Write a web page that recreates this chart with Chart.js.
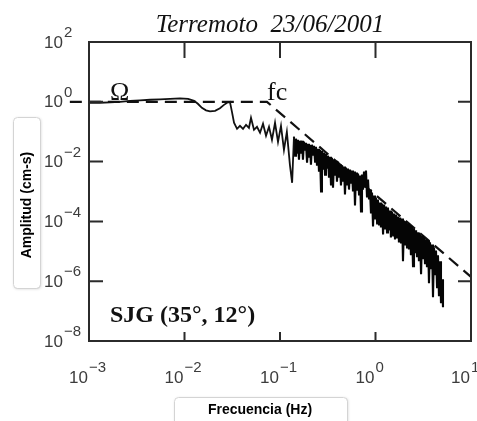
<!DOCTYPE html>
<html>
<head>
<meta charset="utf-8">
<script src="https://cdn.jsdelivr.net/npm/chart.js@4.4.0/dist/chart.umd.min.js"></script>
<style>
  html, body { margin: 0; padding: 0; background: #fff; }
  #wrap { width: 477px; height: 421px; position: relative; }
</style>
</head>
<body>
<div id="wrap"><canvas id="spectrum"></canvas></div>
<script>
// Displacement spectrum, frequency in Hz and amplitude in cm-s
const freqs = [
  0.001, 0.0013, 0.00166, 0.00211, 0.00269, 0.00342, 0.00436, 0.00554, 0.00705, 0.00897,
  0.0109, 0.0126, 0.0138, 0.0152, 0.0168, 0.0185, 0.0209, 0.0235, 0.0259, 0.0279,
  0.0299, 0.0314, 0.033, 0.0355, 0.0381, 0.041, 0.0441, 0.0473, 0.0497, 0.0534,
  0.0574, 0.0618, 0.0664, 0.0714, 0.0767, 0.0824, 0.0887, 0.0953, 0.1024, 0.110,
  0.118, 0.127, 0.134, 0.140,
  0.144, 0.147, 0.151, 0.154, 0.158, 0.162, 0.166, 0.170, 0.174, 0.178,
  0.183, 0.187, 0.192, 0.197, 0.201, 0.206, 0.211, 0.216, 0.222, 0.227,
  0.233, 0.238, 0.244, 0.250, 0.256, 0.262, 0.269, 0.275, 0.282, 0.289,
  0.296, 0.303, 0.311, 0.318, 0.326, 0.334, 0.342, 0.350, 0.359, 0.368,
  0.377, 0.386, 0.395, 0.405, 0.415, 0.425, 0.435, 0.446, 0.457, 0.468,
  0.479, 0.491, 0.503, 0.515, 0.528, 0.541, 0.554, 0.568, 0.581, 0.596,
  0.610, 0.625, 0.640, 0.656, 0.672, 0.688, 0.705, 0.722, 0.740, 0.758,
  0.776, 0.795, 0.815, 0.835, 0.855, 0.876, 0.897, 0.919, 0.942, 0.965,
  0.988, 1.01, 1.04, 1.06, 1.09, 1.12, 1.14, 1.17, 1.20, 1.23,
  1.26, 1.29, 1.32, 1.35, 1.39, 1.42, 1.45, 1.49, 1.53, 1.56,
  1.60, 1.64, 1.68, 1.72, 1.76, 1.81, 1.85, 1.90, 1.94, 1.99,
  2.04, 2.09, 2.14, 2.19, 2.24, 2.30, 2.35, 2.41, 2.47, 2.53,
  2.59, 2.66, 2.72, 2.79, 2.85, 2.92, 3.00, 3.07, 3.14, 3.22,
  3.30, 3.38, 3.46, 3.55, 3.63, 3.72, 3.81, 3.91, 4.00, 4.10,
  4.20, 4.30, 4.41, 4.51, 4.62, 4.74, 4.85, 4.97, 5.09
];
const amps = [
  0.93, 0.93, 0.96, 1.0, 1.08, 1.12, 1.17, 1.21, 1.26, 1.31,
  1.26, 1.08, 0.86, 0.63, 0.52, 0.48, 0.50, 0.61, 0.79, 0.93,
  1.0, 0.46, 0.20, 0.125, 0.158, 0.125, 0.17, 0.135, 0.29, 0.116,
  0.146, 0.092, 0.184, 0.073, 0.146, 0.0536, 0.199, 0.0459, 0.157, 0.0248,
  0.099, 0.0078, 0.00195, 0.0675,
  0.0158, 0.0583, 0.0199, 0.054, 0.0116, 0.05, 0.0184, 0.05, 0.0116, 0.0463,
  0.025, 0.0429, 0.00926, 0.0397, 0.0135, 0.0368, 0.00794, 0.0368, 0.0158, 0.034,
  0.01, 0.0315, 0.00735, 0.027, 0.00463, 0.025, 0.001, 0.0232, 0.0054, 0.0199,
  0.00368, 0.0184, 0.0063, 0.0158, 0.00292, 0.0146, 0.00158, 0.0135, 0.00135, 0.0116,
  0.0034, 0.0107, 0.00214, 0.01, 0.00292, 0.00794, 0.00158, 0.00735, 0.00214, 0.00681,
  0.000794, 0.0063, 0.00158, 0.00583, 0.00116, 0.0054, 0.00184, 0.005, 0.001, 0.00463,
  0.00034, 0.00429, 0.00107, 0.00397, 0.000794, 0.0034, 0.000214, 0.00368, 0.00116, 0.00463,
  0.00135, 0.005, 0.00063, 0.0025, 0.00054, 0.00116, 0.000184, 0.000926, 6.81e-5, 0.000735,
  0.000116, 0.00063, 8.57e-5, 0.00054, 7.35e-5, 0.000429, 6.3e-5, 0.000397, 3.68e-5, 0.000368,
  5.4e-5, 0.000315, 4.29e-5, 0.000292, 5e-5, 0.000232, 2.92e-5, 0.000214, 3.4e-5, 0.000184,
  2.5e-5, 0.00017, 2.92e-5, 0.000146, 1.99e-5, 0.000135, 1.84e-5, 0.000125, 4.63e-6, 0.000107,
  1.58e-5, 0.0001, 1.25e-5, 8.57e-5, 1.16e-5, 7.35e-5, 7.35e-6, 6.81e-5, 3.15e-6, 5.83e-5,
  8.57e-6, 5e-5, 6.3e-6, 4.29e-5, 4.63e-6, 3.68e-5, 1.7e-6, 3.4e-5, 5.4e-6, 2.92e-5,
  3.68e-6, 2.5e-5, 2.92e-6, 2.32e-5, 8.57e-7, 1.99e-5, 2.5e-6, 1.7e-5, 2.92e-7, 1.35e-5,
  1.7e-6, 1.07e-5, 6.3e-7, 7.35e-6, 3.15e-7, 4.63e-6, 1.84e-7, 1.16e-6, 1.35e-7
];
// from here on the spectrum breaks into the dense high-frequency band
const bandStart = freqs.indexOf(0.140);

// Brune model: flat level Omega up to the corner frequency fc, then decay
const modelFreqs = [0.00063, 0.073, 10];
const modelAmps = [1, 1, 1.4e-6];

const xTickExps = [-3, -2, -1, 0, 1];
const yTickExps = [2, 0, -2, -4, -6, -8];

const spectrumPoints = freqs.map((f, i) => ({ x: f, y: amps[i] }));
const modelPoints = modelFreqs.map((f, i) => ({ x: f, y: modelAmps[i] }));

function drawPower(ctx, exp, x, y, alignRight) {
  const base = "10";
  const sup = exp < 0 ? "\u2212" + Math.abs(exp) : String(exp);
  ctx.font = "17px 'Liberation Sans', Arial, sans-serif";
  const w = ctx.measureText(base).width;
  const bx = alignRight ? x - w : x;
  ctx.textAlign = "left";
  ctx.textBaseline = "middle";
  ctx.fillText(base, bx, y);
  ctx.font = "15px 'Liberation Sans', Arial, sans-serif";
  ctx.fillText(sup, bx + w + 1, y - 10);
}

function labelBox(ctx, x, y, w, h) {
  ctx.save();
  ctx.shadowColor = "rgba(0,0,0,0.18)";
  ctx.shadowBlur = 3;
  ctx.shadowOffsetX = 1;
  ctx.shadowOffsetY = 1;
  ctx.fillStyle = "#fff";
  ctx.beginPath();
  ctx.roundRect(x, y, w, h, 4);
  ctx.fill();
  ctx.restore();
  ctx.strokeStyle = "#d4d4d4";
  ctx.lineWidth = 1;
  ctx.beginPath();
  ctx.roundRect(x + 0.5, y + 0.5, w, h, 4);
  ctx.stroke();
}

const spectrumDecor = {
  id: "spectrumDecor",
  afterDraw(chart) {
    const { ctx, chartArea: a, scales: { x, y } } = chart;
    ctx.save();

    // frame and inward ticks
    ctx.strokeStyle = "#2b2b2b";
    ctx.lineWidth = 2;
    ctx.strokeRect(a.left, a.top, a.right - a.left, a.bottom - a.top);
    ctx.beginPath();
    xTickExps.slice(1, -1).forEach(e => {
      const px = x.getPixelForValue(10 ** e);
      ctx.moveTo(px, a.top); ctx.lineTo(px, a.top + 16);
      ctx.moveTo(px, a.bottom); ctx.lineTo(px, a.bottom - 9);
    });
    yTickExps.slice(1, -1).forEach(e => {
      const py = y.getPixelForValue(10 ** e);
      ctx.moveTo(a.left, py); ctx.lineTo(a.left + 14, py);
      ctx.moveTo(a.right, py); ctx.lineTo(a.right - 13, py);
    });
    ctx.stroke();

    // tick labels
    ctx.fillStyle = "#3c3c3c";
    xTickExps.forEach(e => {
      const px = x.getPixelForValue(10 ** e);
      drawPower(ctx, e, px - 1, a.bottom + 37, true);
    });
    yTickExps.forEach(e => {
      const py = y.getPixelForValue(10 ** e);
      drawPower(ctx, e, a.left - 45, py + 1, false);
    });

    // title and annotations
    ctx.fillStyle = "#111";
    ctx.textBaseline = "alphabetic";
    ctx.textAlign = "center";
    ctx.font = "italic 25px 'Liberation Serif', 'Times New Roman', serif";
    ctx.fillText("Terremoto  23/06/2001", 270, 32);
    ctx.textAlign = "left";
    ctx.font = "26px 'Liberation Serif', 'Times New Roman', serif";
    ctx.fillText("\u03A9", 110, 100);
    ctx.fillText("fc", 267, 100);
    ctx.font = "bold 24px 'Liberation Serif', 'Times New Roman', serif";
    ctx.fillText("SJG (35\u00B0, 12\u00B0)", 110, 322);

    // axis titles in their boxes
    labelBox(ctx, 13, 117, 27, 171);
    labelBox(ctx, 174, 397, 173, 30);
    ctx.fillStyle = "#000";
    ctx.font = "bold 14px 'Liberation Sans', Arial, sans-serif";
    ctx.textAlign = "center";
    ctx.textBaseline = "middle";
    ctx.fillText("Frecuencia (Hz)", 260, 410);
    ctx.save();
    ctx.translate(27, 205);
    ctx.rotate(-Math.PI / 2);
    ctx.fillText("Amplitud (cm-s)", 0, 0);
    ctx.restore();

    ctx.restore();
  }
};

new Chart(document.getElementById("spectrum"), {
  type: "scatter",
  data: {
    datasets: [
      {
        data: spectrumPoints.slice(0, bandStart + 1),
        showLine: true,
        borderColor: "#111",
        borderWidth: 1.8,
        pointRadius: 0,
        tension: 0
      },
      {
        data: spectrumPoints.slice(bandStart),
        showLine: true,
        borderColor: "#050505",
        borderWidth: 2.1,
        pointRadius: 0,
        tension: 0
      },
      {
        data: modelPoints,
        showLine: true,
        borderColor: "#111",
        borderWidth: 2.2,
        borderDash: [12, 7],
        pointRadius: 0,
        clip: false
      }
    ]
  },
  options: {
    responsive: true,
    maintainAspectRatio: false,
    animation: false,
    layout: { padding: { left: 89, right: 6, top: 42, bottom: 80 } },
    scales: {
      x: { type: "logarithmic", min: 0.001, max: 10, display: false },
      y: { type: "logarithmic", min: 1e-8, max: 100, display: false }
    },
    plugins: {
      legend: { display: false },
      tooltip: { enabled: false }
    }
  },
  plugins: [spectrumDecor]
});
</script>
</body>
</html>
